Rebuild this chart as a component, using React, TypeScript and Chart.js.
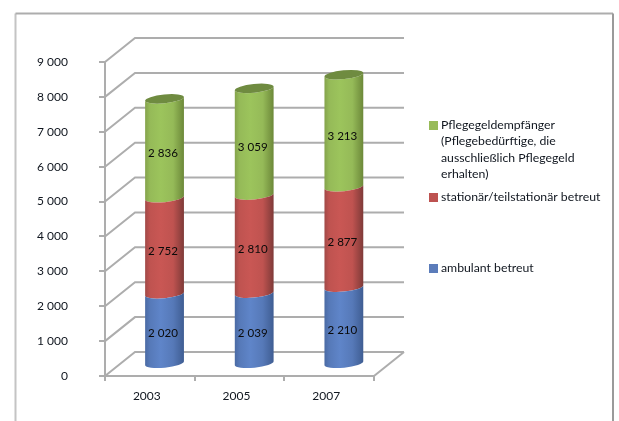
import { useEffect, useRef } from "react";
import { Chart, registerables } from "chart.js";

Chart.register(...registerables);

// Pflegebedürftige nach Art der Betreuung
const years = ["2003", "2005", "2007"];
const ambulant = [2020, 2039, 2210];
const stationaer = [2752, 2810, 2877];
const pflegegeld = [2836, 3059, 3213];
const yTicks = [0, 1000, 2000, 3000, 4000, 5000, 6000, 7000, 8000, 9000];

const labelAmbulant = ["ambulant betreut"];
const labelStationaer = ["stationär/teilstationär betreut"];
const labelPflegegeld = [
  "Pflegegeldempfänger",
  "(Pflegebedürftige, die",
  "ausschließlich Pflegegeld",
  "erhalten)",
];

const FONT = "Lato";
const TEXT = "#10161f";
const GRID = "#adadad";

// Depth of the 3D box and of the mid plane on which the columns stand
const DEPTH_X = 30;
const DEPTH_Y = -24;
const COL_DX = 14.7;
const COL_DY = -11.7;
const TILT = -0.1;
const RY = 4.4;

type Shade = { edgeL: string; light: string; mid: string; edgeR: string; cap: string; swatch: string };
const blue: Shade = { edgeL: "#4a6aa3", light: "#5f85c9", mid: "#5679b8", edgeR: "#3f5d92", cap: "#4a6ba3", swatch: "#5b7cba" };
const red: Shade = { edgeL: "#a04947", light: "#c95754", mid: "#bf5350", edgeR: "#7e3a38", cap: "#a04a47", swatch: "#bd5250" };
const green: Shade = { edgeL: "#84a24b", light: "#9cc45c", mid: "#95ba58", edgeR: "#6c8839", cap: "#6f8b40", swatch: "#98bb59" };

const fmt = (v: number) => String(v).replace(/\B(?=(\d{3})+$)/g, " ");

const cylinderPlugin = {
  id: "cylinder",
  beforeDatasetsDraw(chart: any) {
    const { ctx, scales } = chart;
    const y = scales.y;
    const left = scales.x.left;
    const right = scales.x.right;
    ctx.save();
    // chart frame
    ctx.lineWidth = 2;
    ctx.strokeStyle = "#c4c4c4";
    ctx.beginPath();
    ctx.moveTo(15.5, 421);
    ctx.lineTo(15.5, 13.5);
    ctx.stroke();
    ctx.strokeStyle = "#adadad";
    ctx.beginPath();
    ctx.moveTo(15.5, 13.5);
    ctx.lineTo(613, 13.5);
    ctx.stroke();
    ctx.strokeStyle = "#9a9a9a";
    ctx.beginPath();
    ctx.moveTo(613, 13.5);
    ctx.lineTo(613, 421);
    ctx.stroke();
    // back wall grid lines and side wall diagonals, one for each tick
    ctx.strokeStyle = GRID;
    ctx.lineWidth = 2;
    for (const tick of y.ticks) {
      const py = y.getPixelForValue(tick.value);
      ctx.beginPath();
      ctx.moveTo(left, py);
      ctx.lineTo(left + DEPTH_X, py + DEPTH_Y);
      ctx.lineTo(right + DEPTH_X, py + DEPTH_Y);
      ctx.stroke();
    }
    // floor
    const base = y.getPixelForValue(0);
    ctx.beginPath();
    ctx.moveTo(right + DEPTH_X, base + DEPTH_Y);
    ctx.lineTo(right, base);
    ctx.stroke();
    ctx.restore();
    ctx.save();
    ctx.translate(COL_DX, COL_DY);
  },
  beforeDatasetDraw(chart: any, args: any) {
    const { ctx } = chart;
    const shade: Shade = chart.data.datasets[args.index].shade;
    const topSeries = args.index === chart.data.datasets.length - 1;
    for (const el of args.meta.data) {
      const { x, y, base, width } = el.getProps(["x", "y", "base", "width"], true);
      const rx = width / 2;
      const g = ctx.createLinearGradient(x - rx, 0, x + rx, 0);
      g.addColorStop(0, shade.edgeL);
      g.addColorStop(0.12, shade.mid);
      g.addColorStop(0.4, shade.light);
      g.addColorStop(0.72, shade.mid);
      g.addColorStop(1, shade.edgeR);
      ctx.fillStyle = g;
      ctx.beginPath();
      ctx.ellipse(x, y, rx, RY, TILT, 0, Math.PI, false);
      ctx.ellipse(x, base, rx, RY, TILT, Math.PI, 0, true);
      ctx.closePath();
      ctx.fill();
      if (topSeries) {
        ctx.fillStyle = shade.cap;
        ctx.beginPath();
        ctx.ellipse(x, y, rx, RY, TILT, 0, Math.PI * 2);
        ctx.fill();
      }
    }
    return false;
  },
  afterDatasetsDraw(chart: any) {
    const { ctx, data } = chart;
    ctx.restore();
    // value labels inside the columns
    ctx.save();
    ctx.font = `11.6px ${FONT}`;
    ctx.fillStyle = "#0a0a0a";
    ctx.textAlign = "center";
    ctx.textBaseline = "middle";
    data.datasets.forEach((ds: any, i: number) => {
      const meta = chart.getDatasetMeta(i);
      meta.data.forEach((el: any, j: number) => {
        const { x, y, base } = el.getProps(["x", "y", "base"], true);
        ctx.fillText(fmt(ds.data[j]), x + COL_DX - 1.5, (y + base) / 2 + COL_DY + 5);
      });
    });
    // legend, with the multi-line entry for the Pflegegeld series
    const entries: [string[], Shade, number][] = [
      [labelPflegegeld, green, 125],
      [labelStationaer, red, 197],
      [labelAmbulant, blue, 268],
    ];
    ctx.font = `12.25px ${FONT}`;
    ctx.textAlign = "left";
    for (const [lines, shade, top] of entries) {
      ctx.fillStyle = shade.swatch;
      ctx.fillRect(429, top - 4, 9, 9);
      ctx.fillStyle = TEXT;
      lines.forEach((line, k) => ctx.fillText(line, 441, top + k * 16.4));
    }
    ctx.restore();
  },
};

export default function App() {
  const ref = useRef<HTMLCanvasElement>(null);
  useEffect(() => {
    document.body.style.margin = "0";
    const chart = new Chart(ref.current!, {
      type: "bar",
      data: {
        labels: years,
        datasets: [
          { label: labelAmbulant.join(" "), data: ambulant, shade: blue, backgroundColor: blue.swatch },
          { label: labelStationaer.join(" "), data: stationaer, shade: red, backgroundColor: red.swatch },
          { label: labelPflegegeld.join(" "), data: pflegegeld, shade: green, backgroundColor: green.swatch },
        ] as any,
      },
      plugins: [cylinderPlugin],
      options: {
        animation: false,
        responsive: false,
        events: [],
        layout: { autoPadding: false, padding: { left: 0, top: 62, right: 245, bottom: 0 } },
        datasets: { bar: { barThickness: 39 } },
        plugins: { legend: { display: false }, tooltip: { enabled: false }, title: { display: false } },
        scales: {
          x: {
            stacked: true,
            grid: { drawOnChartArea: false, color: GRID, tickLength: 5, lineWidth: 2 },
            border: { color: GRID, width: 2 },
            ticks: { color: TEXT, font: { family: FONT, size: 12 }, padding: 8, maxRotation: 0, labelOffset: -3 },
            afterFit: (s: any) => { s.height = 45; },
          },
          y: {
            stacked: true,
            min: 0,
            max: 9000,
            afterBuildTicks: (s: any) => { s.ticks = yTicks.map((value) => ({ value })); },
            grid: { drawOnChartArea: false, color: GRID, tickLength: 6, lineWidth: 2 },
            border: { color: GRID, width: 2 },
            ticks: { color: TEXT, font: { family: FONT, size: 12 }, padding: 31, callback: (v: any) => fmt(v) },
            afterFit: (s: any) => { s.width = 105; },
          },
        },
      } as any,
    });
    return () => chart.destroy();
  }, []);
  return <canvas ref={ref} width={619} height={421} style={{ display: "block" }} />;
}
